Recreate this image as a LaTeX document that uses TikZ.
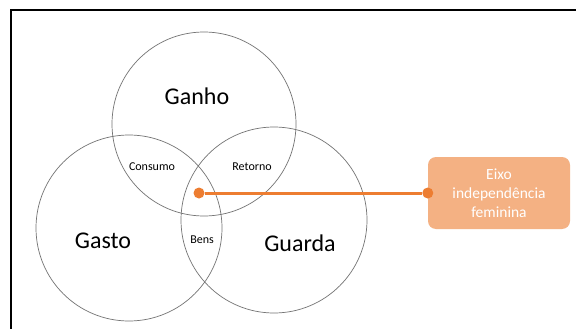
\documentclass[tikz,border=0pt]{standalone}
\usepackage{fontspec}
\setmainfont{Carlito}
\definecolor{linkorange}{HTML}{ED7D31}
\definecolor{boxorange}{HTML}{F4B183}

\begin{document}
\begin{tikzpicture}[x=1pt, y=-1pt,
  ring/.style={circle, draw=black!55, line width=0.7pt, inner sep=0pt},
  big/.style={font=\fontsize{24}{28}\selectfont},
  small/.style={font=\fontsize{12}{14}\selectfont},
  dot/.style={circle, fill=linkorange, inner sep=0pt, minimum size=11pt}]
  \clip (0,0) rectangle (576,329);
  \fill[white] (0,0) rectangle (576,329);
  \draw[line width=1.6pt] (11,10) rectangle (620,360);

  % Circles
  \node[ring, minimum size=184pt] (ganho) at (204,124) {};
  \node[ring, minimum size=186pt] (gasto) at (129,228) {};
  \node[ring, minimum size=186pt] (guarda) at (274,220) {};

  % Labels
  \node[big] (ganhotxt) at (197,96) {Ganho};
  \node[big] (gastotxt) at (103,241) {Gasto};
  \node[big] (guardatxt) at (300,243) {Guarda};
  \node[small] (consumo) at (152,167) {Consumo};
  \node[small] (retorno) at (252,167) {Retorno};
  \node[small] (bens) at (202,240) {Bens};

  % Axis box
  \node[fill=boxorange, rounded corners=8pt, minimum width=142pt, minimum height=72pt,
    text=white, align=center, font=\fontsize{15.5}{19}\selectfont] (eixo) at (499,193)
    {Eixo\\independência\\feminina};

  % Link
  \node[dot] (inner) at (199,193) {};
  \node[dot] (outer) at (eixo.west) {};
  \draw[linkorange, line width=3pt] (inner) -- (outer);
\end{tikzpicture}
\end{document}
